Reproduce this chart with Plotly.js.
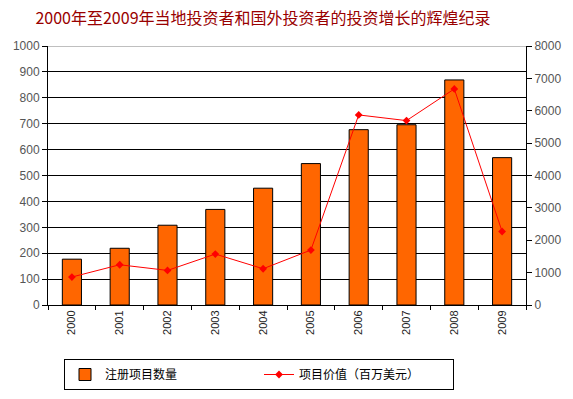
<!DOCTYPE html>
<html>
<head>
<meta charset="utf-8">
<script src="https://cdn.plot.ly/plotly-3.0.1.min.js"></script>
<style>html,body{margin:0;padding:0;background:#fff;}#chart{width:573px;height:399px;}</style>
</head>
<body>
<div id="chart"></div>
<script>
const years = ['2000','2001','2002','2003','2004','2005','2006','2007','2008','2009'];
const projectCount = [177, 219, 308, 369, 451, 546, 677, 696, 869, 569];
const projectValue = [864, 1243, 1068, 1573, 1120, 1697, 5871, 5695, 6673, 2271];
const seriesNames = ['注册项目数量', '项目价值（百万美元）'];
const titleText = '2000年至2009年当地投资者和国外投资者的投资增长的辉煌纪录';

const cjk = '"Noto Sans CJK SC", "Liberation Sans", Arial, sans-serif';
const latin = '"Liberation Sans", Arial, sans-serif';

const traces = [
  {
    type: 'bar', x: years, y: projectCount, name: seriesNames[0],
    width: 0.4,
    marker: {color: '#FF6600', line: {color: '#000000', width: 1}},
    yaxis: 'y'
  },
  {
    type: 'scatter', mode: 'lines+markers', x: years, y: projectValue, name: seriesNames[1],
    line: {color: '#FF0000', width: 1},
    marker: {symbol: 'diamond', size: 6, color: '#FF0000'},
    yaxis: 'y2'
  }
];

const layout = {
  width: 573, height: 399,
  margin: {l: 48, r: 47, t: 46, b: 94},
  paper_bgcolor: '#ffffff', plot_bgcolor: '#ffffff',
  showlegend: true,
  title: {
    text: titleText, xref: 'container', x: 0.459, xanchor: 'center',
    yref: 'container', y: 0.955, yanchor: 'middle',
    font: {family: cjk, size: 16, color: '#990000'},
    automargin: false
  },
  xaxis: {
    type: 'category', range: [-0.5, 9.5], automargin: false,
    showline: true, linecolor: '#000', linewidth: 1,
    ticks: 'outside', ticklen: 4, tickcolor: '#000', tickson: 'boundaries',
    tickangle: -90, tickfont: {family: latin, size: 11, color: '#222'},
    showgrid: false, zeroline: false
  },
  yaxis: {
    range: [0, 1000], dtick: 100, tick0: 0, automargin: false,
    showline: true, linecolor: '#000', linewidth: 1,
    ticks: 'outside', ticklen: 5, tickcolor: '#000',
    tickfont: {family: latin, size: 12, color: '#555'},
    showgrid: true, gridcolor: '#000', gridwidth: 1, zeroline: false
  },
  yaxis2: {
    range: [0, 8000], dtick: 1000, tick0: 0, overlaying: 'y', side: 'right', automargin: false,
    showline: true, linecolor: '#000', linewidth: 1,
    ticks: 'outside', ticklen: 5, tickcolor: '#000',
    tickfont: {family: latin, size: 12, color: '#555'},
    showgrid: false, zeroline: false
  },
  legend: {
    orientation: 'h', xref: 'container', x: 64/573, xanchor: 'left',
    yref: 'container', y: 1 - 359/399, yanchor: 'top',
    bordercolor: '#000', borderwidth: 1, bgcolor: '#fff',
    entrywidth: 149, entrywidthmode: 'pixels',
    font: {family: cjk, size: 12, color: '#000'},
    traceorder: 'normal'
  },
  shapes: [
    {type: 'line', xref: 'paper', yref: 'y', x0: 0, x1: 1, y0: 1000, y1: 1000, line: {color: '#808080', width: 1}, layer: 'above'}
  ]
};

Plotly.newPlot('chart', traces, layout, {staticPlot: true, displayModeBar: false});
</script>
</body>
</html>
